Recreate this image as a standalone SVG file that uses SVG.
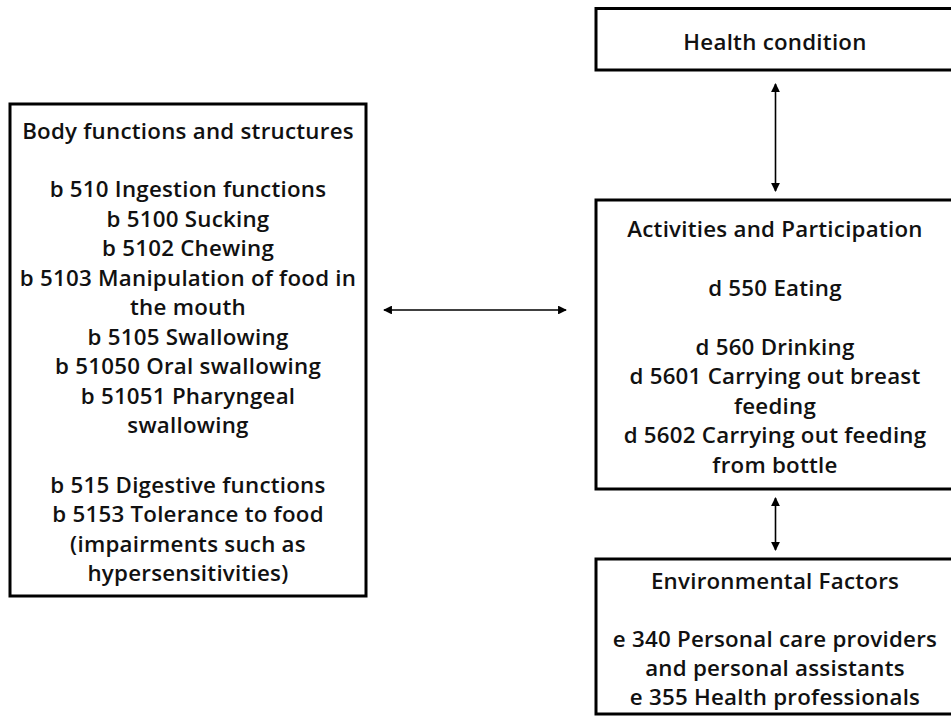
<svg xmlns="http://www.w3.org/2000/svg" width="951" height="717" viewBox="0 0 951 717">
<style>
.box{fill:#fff;stroke:#000;stroke-width:3}
.t{font-family:"Open Sans","DejaVu Sans",sans-serif;font-weight:600;font-size:22.3px;letter-spacing:0.25px;fill:#111;text-anchor:middle}
.c{stroke:#000;stroke-width:1.6;fill:none;marker-start:url(#ah);marker-end:url(#ah)}
</style>
<defs>
<marker id="ah" viewBox="0 0 10 10" refX="9" refY="5" markerWidth="5.5" markerHeight="5.5" orient="auto-start-reverse" markerUnits="strokeWidth">
<path d="M0,0 L10,5 L0,10 z" fill="#000"/>
</marker>
</defs>
<rect width="951" height="717" fill="#fff"/>
<g id="health">
<rect class="box" x="596" y="8.5" width="360" height="61.5"/>
<text class="t" x="775" y="50">Health condition</text>
</g>
<g id="body">
<rect class="box" x="10" y="104" width="356" height="492"/>
<text class="t" x="188" y="138.5">Body functions and structures</text>
<text class="t" x="188" y="197">b 510 Ingestion functions</text>
<text class="t" x="188" y="226.5">b 5100 Sucking</text>
<text class="t" x="188" y="256">b 5102 Chewing</text>
<text class="t" x="188" y="285.5">b 5103 Manipulation of food in</text>
<text class="t" x="188" y="315">the mouth</text>
<text class="t" x="188" y="344.5">b 5105 Swallowing</text>
<text class="t" x="188" y="374">b 51050 Oral swallowing</text>
<text class="t" x="188" y="403.5">b 51051 Pharyngeal</text>
<text class="t" x="188" y="433">swallowing</text>
<text class="t" x="188" y="492.5">b 515 Digestive functions</text>
<text class="t" x="188" y="522">b 5153 Tolerance to food</text>
<text class="t" x="188" y="551.5">(impairments such as</text>
<text class="t" x="188" y="581">hypersensitivities)</text>
</g>
<g id="activities">
<rect class="box" x="596" y="200" width="360" height="289"/>
<text class="t" x="775" y="236.5">Activities and Participation</text>
<text class="t" x="775" y="295.5">d 550 Eating</text>
<text class="t" x="775" y="354.5">d 560 Drinking</text>
<text class="t" x="775" y="384">d 5601 Carrying out breast</text>
<text class="t" x="775" y="413.5">feeding</text>
<text class="t" x="775" y="443">d 5602 Carrying out feeding</text>
<text class="t" x="775" y="472.5">from bottle</text>
</g>
<g id="environment">
<rect class="box" x="596" y="559" width="360" height="155"/>
<text class="t" x="775" y="588.5">Environmental Factors</text>
<text class="t" x="775" y="647">e 340 Personal care providers</text>
<text class="t" x="775" y="676">and personal assistants</text>
<text class="t" x="775" y="705">e 355 Health professionals</text>
</g>
<g id="connectors">
<line class="c" x1="775.5" y1="84" x2="775.5" y2="191"/>
<line class="c" x1="384" y1="310" x2="566" y2="310"/>
<line class="c" x1="775.5" y1="498" x2="775.5" y2="550"/>
</g>
</svg>
